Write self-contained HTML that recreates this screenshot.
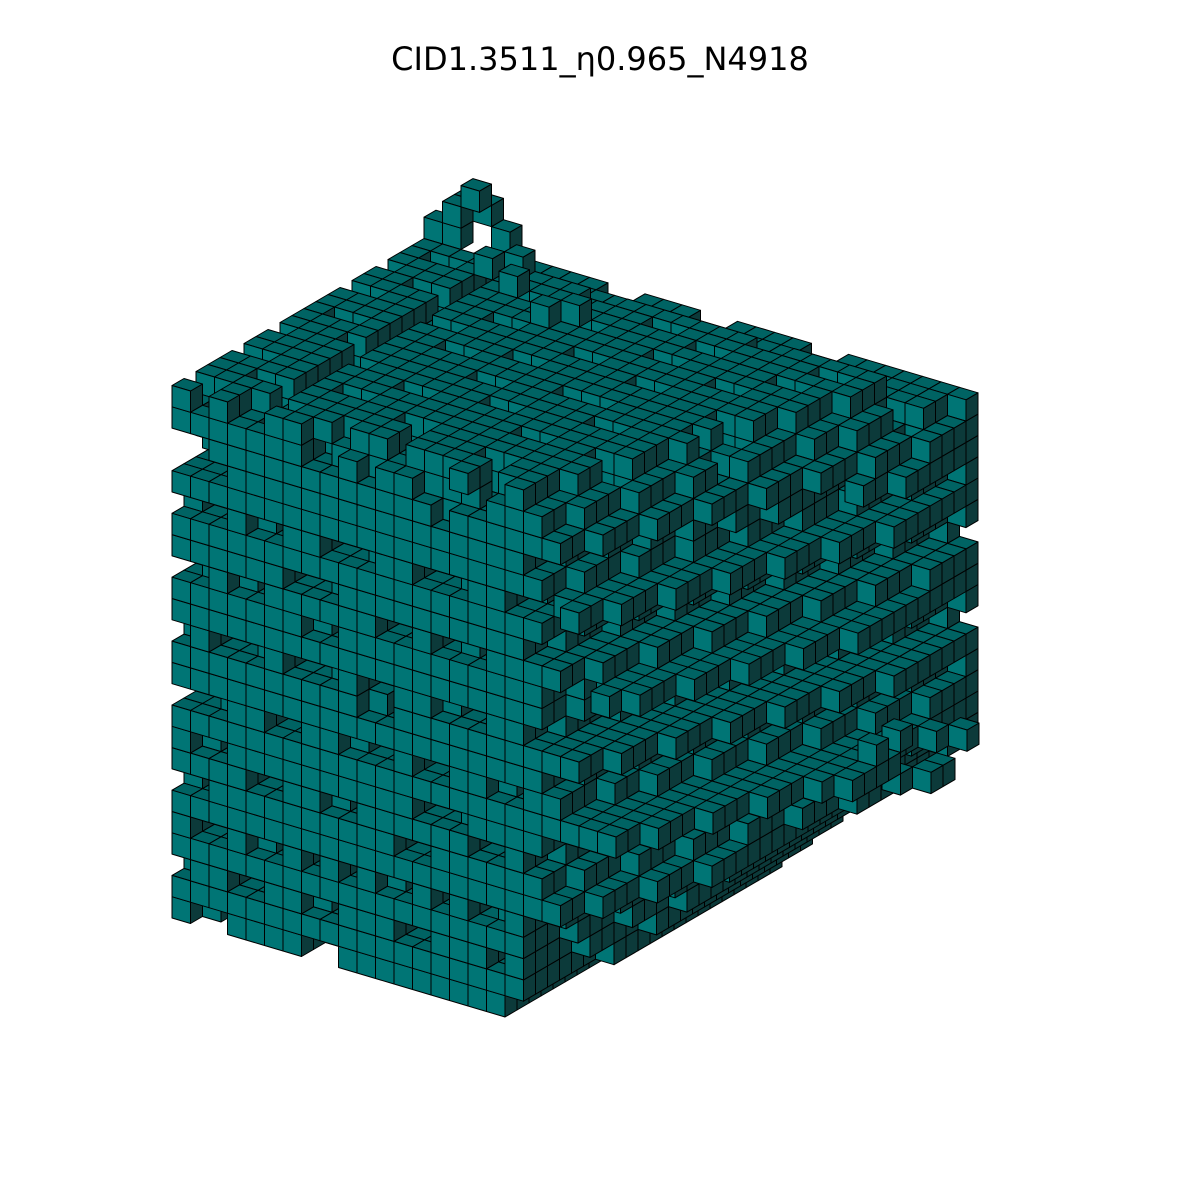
<!DOCTYPE html>
<html><head><meta charset="utf-8"><style>
html,body{margin:0;padding:0;background:#fff;width:1200px;height:1200px;overflow:hidden}
svg{display:block}
</style></head><body>
<svg id="chart" width="1200" height="1200" viewBox="0 0 1200 1200" xmlns="http://www.w3.org/2000/svg">
<text x="600" y="70" text-anchor="middle" font-family="DejaVu Sans, Liberation Sans, sans-serif" font-size="32" fill="#000">CID1.3511_η0.965_N4918</text>
<g id="voxels"></g>
</svg>
<script>
const NX = 28, NY = 24, NZ = 25;
// front mask: rows z top->bottom
const frontRows = [
"####.#######################",
"############################",
"############################",
"#########################.##",
"############################",
"############################",
"############################",
"############################",
"##############.#############",
"############################",
"############################",
"############################",
"############################",
"############################",
"############################",
"############################",
"############################",
"###########################.",
"##########################..",
"########################....",
"#######################.....",
"######################......",
"#####################.......",
"####################........",
"##################.........."
];
// side mask: rows z top->bottom, chars y
const sideRows = [
"#####################...",
"########################",
"########################",
"########################",
"########################",
"########################",
"########################",
"########################",
"########################",
"########################",
"########################",
"########################",
"########################",
"########################",
"########################",
"########################",
"########################",
"########################",
"########################",
"########################",
"#######################.",
"######################..",
"#####################...",
"####################....",
"###################....."
];
// right-side depth digits (voxels removed from x max), rows z top->bottom, chars y
const sideDepth = [
"999888777666555444333222",
"887776665554443332221110",
"776665554443332221110000",
"998877665544332211000000",
"887776665554443332221110",
"665554443332221110000000",
"887776665554443332221110",
"998887776665554443332221",
"776665554443332221110000",
"554443332221110000000000",
"887776665554443332221110",
"998887776665554443332221",
"665554443332221110000000",
"887776665554443332221110",
"776665554443332221110000",
"443332221110000000000000",
"887776665554443332221110",
"998887776665554443332221",
"887776665554443332221110",
"776665554443332221110000",
"998887776665554443332221",
"999888777666555444333222",
"999988887777666655554444",
"999999888877776666555544",
"999999998888777766665555"
];
// front depth digits (voxels removed from the front), rows z top->bottom
const frontDepth = [
"0102300120031000210030012000",
"0000000210000001200000300010",
"2100000000000000000000210000",
"3320000000000000000001230021",
"0000000000000000000000000000",
"1230120023100231002310230012",
"0000000000000000000000000000",
"0000003210000000000001200000",
"2101200000023001200000000210",
"0000000120000000000023100000",
"0000000000000000000000000000",
"1023102310320013200230210320",
"0000000000120000000000000000",
"0000000000000000000000000000",
"2310023001230230012003210230",
"0000000000000000000000000000",
"0120000000000231000000000001",
"0000230012000000230001200000",
"1200000000002300000000000230",
"0000000000000000000000000000",
"0320120302013020310203102310",
"0000000000000000000000000000",
"1002300120003200120023000100",
"0000000000000000000000000000",
"0120000230001200003000120000"
];
// top depth digits, rows y back->front
const topDepth = [
"3210000123000320001230000000",
"0000230000120000000000120000",
"1200000000000023000000000000",
"0000120002300000001200000230",
"0230000000000120000000230000",
"0000003200000000230000000000",
"1000000000230000000001200012",
"0012300000000001200000000000",
"0000000120000000000230000000",
"2300000000002300000000012000",
"0000012000000000120000000000",
"0000000000230000000002300010",
"0120000230000000000000000000",
"0000000000000012300001200000",
"0002300000120000000000000230",
"1000000000000000023000000000",
"0000120000002300000000120000",
"0000000023000000000000000000",
"2300000000000001200230000000",
"0000001200000000000000001200",
"0012000000230000000000000000",
"0000000000000002300012000000",
"1200230000000000000000000023",
"0000000001200230000000000000"
];
// extra voxels [x, y, z]
const extras = [[0,21,25],[1,21,25],[1,21,26],[1,22,26],[2,22,26],[2,21,27],[3,22,25],[4,19,25],[5,20,25],[6,18,25],[9,16,25],[10,17,25],
[28,12,9],[28,13,9],[28,14,9],[28,15,9],[28,16,8],[29,17,8],[29,18,8],[28,14,10],[28,16,10],[28,19,9],[29,20,9],
[12,0,0],[13,0,0],[14,0,1],[15,0,1],[16,0,2]];

const occ = new Set();
const key=(x,y,z)=>x+','+y+','+z;
for(let x=0;x<NX;x++)for(let y=0;y<NY;y++)for(let z=0;z<NZ;z++){
  const f=(frontRows[NZ-1-z]||'')[x]==='#';
  const s=(sideRows[NZ-1-z]||'')[y]==='#';
  if(f&&s) occ.add(key(x,y,z));
}
for(let z=0;z<NZ;z++){const r=sideDepth[NZ-1-z]||'';for(let y=0;y<NY;y++){const d=+(r[y]||0);for(let x=NX-1;x>=NX-d;x--)occ.delete(key(x,y,z));}}
for(let z=0;z<NZ;z++){const r=frontDepth[NZ-1-z]||'';for(let x=0;x<NX;x++){const d=+(r[x]||0);for(let y=0;y<d;y++)occ.delete(key(x,y,z));}}
for(let y=0;y<NY;y++){const r=topDepth[NY-1-y]||'';for(let x=0;x<NX;x++){const d=+(r[x]||0);for(let z=NZ-1;z>=NZ-d;z--)occ.delete(key(x,y,z));}}
extras.forEach(([x,y,z])=>occ.add(key(x,y,z)));

const has=(x,y,z)=>occ.has(key(x,y,z));
const OX=172, OY=918;
function P(x,y,z){return [OX+x*18.5+y*12, OY+x*5.5-y*7-z*21.3];}
const g=document.getElementById('voxels');
const NS='http://www.w3.org/2000/svg';
function face(pts,fill,name){
  const p=document.createElementNS(NS,'polygon');
  p.setAttribute('points',pts.map(q=>q[0].toFixed(1)+','+q[1].toFixed(1)).join(' '));
  p.setAttribute('fill',fill);
  p.setAttribute('stroke','#000');
  p.setAttribute('stroke-width','1');
  p.setAttribute('stroke-linejoin','round');
  
  
  g.appendChild(p);
}
const list=[...occ].map(s=>s.split(',').map(Number));
list.sort((a,b)=> (b[1]-a[1]) || (a[0]-b[0]) || (a[2]-b[2]));
list.forEach(([x,y,z])=>{
  if(!has(x+1,y,z)) face([P(x+1,y,z),P(x+1,y+1,z),P(x+1,y+1,z+1),P(x+1,y,z+1)],'#0c3a3a','voxel-side-face');
  if(!has(x,y,z+1)) face([P(x,y,z+1),P(x+1,y,z+1),P(x+1,y+1,z+1),P(x,y+1,z+1)],'#006363','voxel-top-face');
  if(!has(x,y-1,z)) face([P(x,y,z),P(x+1,y,z),P(x+1,y,z+1),P(x,y,z+1)],'#007575','voxel-front-face');
});
</script>
</body></html>
